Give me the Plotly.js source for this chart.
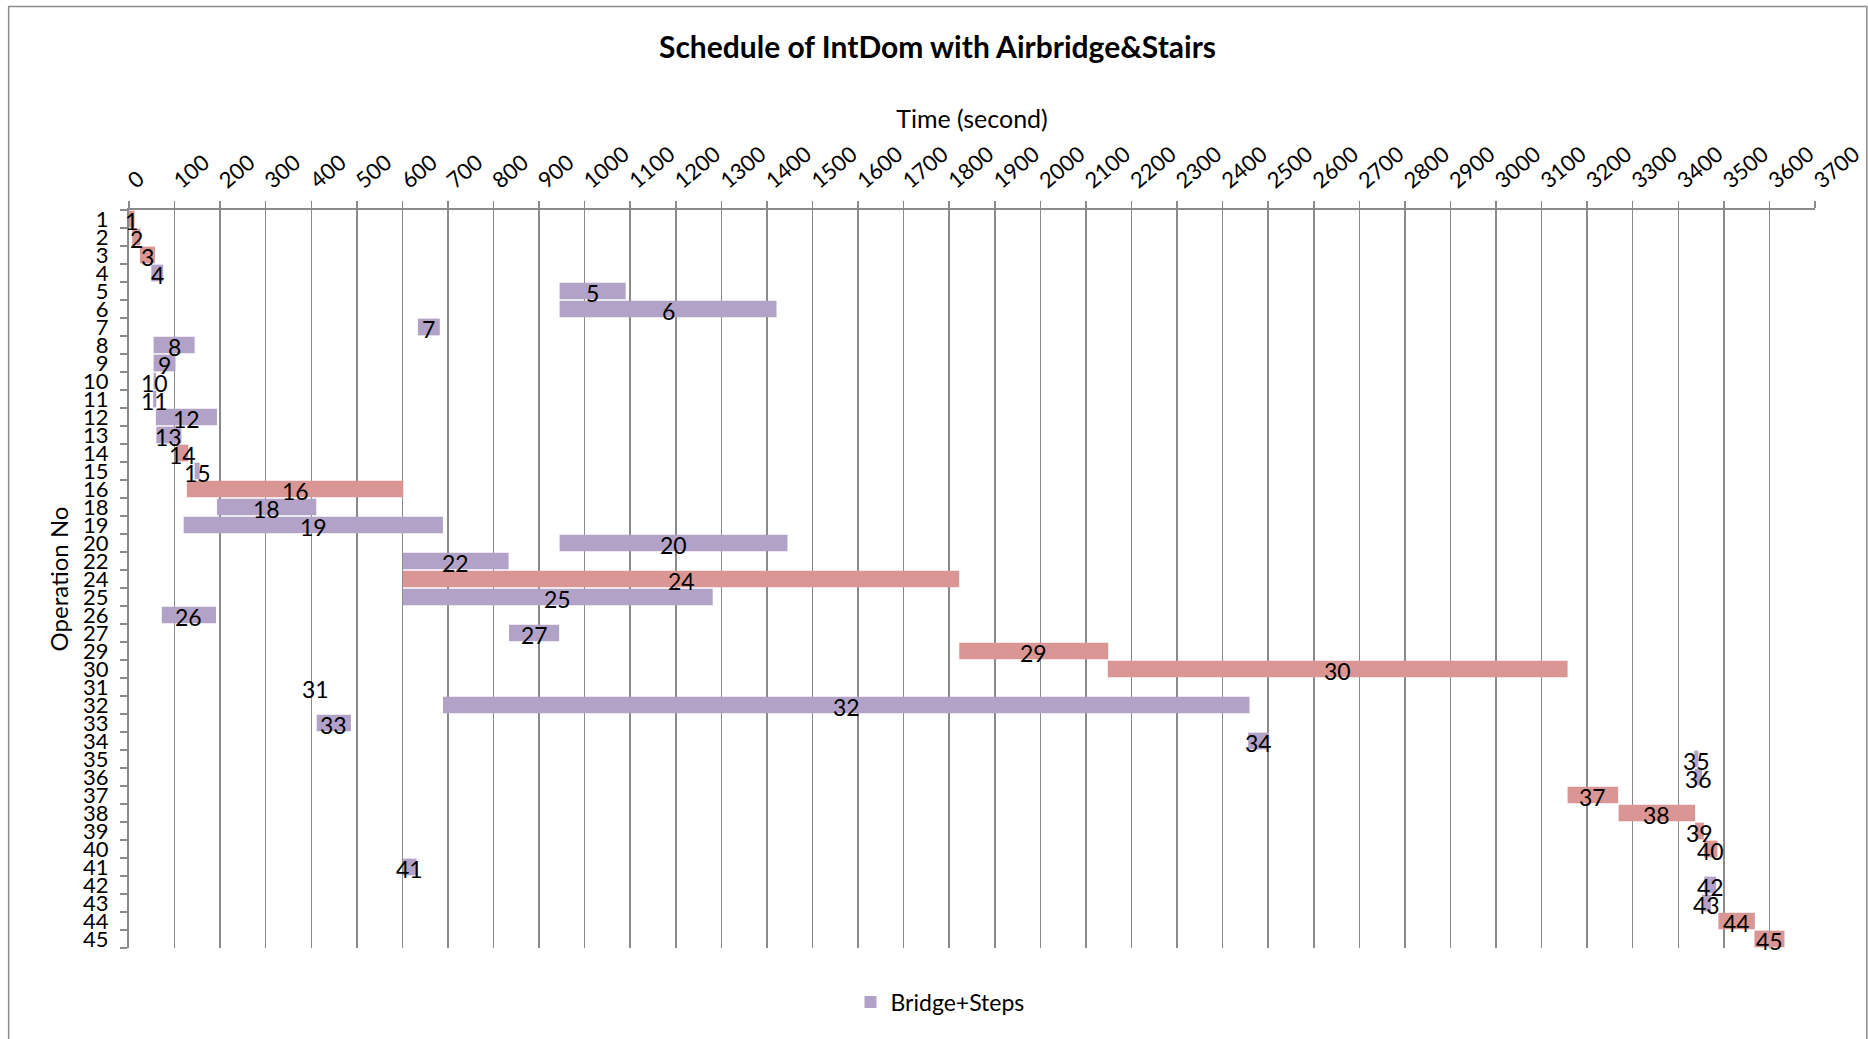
<!DOCTYPE html>
<html>
<head>
<meta charset="utf-8">
<script src="https://cdn.plot.ly/plotly-3.0.1.min.js"></script>
<style>
  html, body { margin: 0; padding: 0; background: #ffffff; }
  #chart { width: 1868px; height: 1039px; }
</style>
</head>
<body>
<div id="chart"></div>
<script>
// Operation numbers, in the order they are listed top to bottom
const ops = [1, 2, 3, 4, 5, 6, 7, 8, 9, 10, 11, 12, 13, 14, 15, 16, 18, 19, 20, 22,
             24, 25, 26, 27, 29, 30, 31, 32, 33, 34, 35, 36, 37, 38, 39, 40, 41, 42, 43, 44, 45];

// Start time of each operation (seconds)
const startSec = [0, 7, 24, 49, 945, 945, 634, 54, 54, 54, 53, 59, 60, 104, 144, 127, 193, 120, 945, 601,
                  601, 601, 72, 834, 1822, 2148, 410, 689, 412, 2456, 3435, 3436, 3157, 3269, 3437, 3456, 601, 3457, 3452, 3488, 3567];

// Duration of each operation (seconds)
const durSec = [12, 18, 33, 26, 145, 476, 48, 90, 48, 5, 7, 134, 55, 26, 11, 475, 218, 569, 500, 232,
                1221, 680, 119, 110, 327, 1009, 0, 1770, 75, 46, 9, 16, 111, 168, 19, 30, 30, 26, 20, 80, 66];

// Operations drawn in the rose colour
const roseOps = [1, 2, 3, 14, 16, 24, 29, 30, 37, 38, 39, 40, 44, 45];

// Time axis ticks
const timeTicks = [];
for (let t = 0; t <= 3700; t += 100) timeTicks.push(t);

const PURPLE = '#B3A2C7';
const ROSE = '#D99694';
const GRID = '#8a8a8a';
const FONT = 'Lato, "Open Sans", sans-serif';

const cats = ops.map(String);

function subset(pred) {
  const y = [], x = [], base = [];
  ops.forEach((op, i) => {
    if (pred(op)) { y.push(String(op)); x.push(durSec[i]); base.push(startSec[i]); }
  });
  return { y, x, base };
}

const purple = subset(op => !roseOps.includes(op));
const rose = subset(op => roseOps.includes(op));

const traces = [
  {
    type: 'bar', orientation: 'h', name: 'Bridge+Steps',
    y: purple.y, x: purple.x, base: purple.base,
    marker: { color: PURPLE, line: { width: 0 } },
    hoverinfo: 'skip', showlegend: true
  },
  {
    type: 'bar', orientation: 'h', name: 'rose',
    y: rose.y, x: rose.x, base: rose.base,
    marker: { color: ROSE, line: { width: 0 } },
    hoverinfo: 'skip', showlegend: false
  }
];

// operation number printed at the middle of each bar (y given as category index)
const barLabels = ops.map((op, i) => ({
  x: startSec[i] + durSec[i] / 2, y: i, xref: 'x', yref: 'y',
  text: String(op), showarrow: false, yshift: -2,
  font: { family: FONT, size: 23, color: '#000000' }
}));

// plot area in pixels: x 129..1815, y 210..948
const L = 129.3, R = 1814.7, T = 210, B = 948;
const W = R - L, H = B - T;
const px = v => (v - L) / W;
const py = v => (B - v) / H;

const layout = {
  width: 1868, height: 1039,
  paper_bgcolor: '#ffffff', plot_bgcolor: '#ffffff',
  margin: { l: L, r: 1868 - R, t: T, b: 1039 - B, pad: 0 },
  font: { family: FONT, color: '#000000' },
  title: {
    text: '<b>Schedule of IntDom with Airbridge&amp;Stairs</b>',
    font: { family: FONT, size: 30, color: '#000000' },
    x: 937.5 / 1868, xanchor: 'center', xref: 'container',
    y: 1 - 47.6 / 1039, yanchor: 'middle', yref: 'container'
  },
  barmode: 'overlay',
  bargap: 0.07,
  xaxis: {
    side: 'top', range: [0, 3700], autorange: false,
    tickmode: 'array', tickvals: timeTicks, ticktext: timeTicks.map(String),
    tickangle: -40,
    tickfont: { family: FONT, size: 22, color: '#000000' },
    ticks: 'outside', ticklen: 7, tickwidth: 1.5, tickcolor: GRID,
    showline: true, linecolor: GRID, linewidth: 2,
    showgrid: true, gridcolor: GRID, gridwidth: 1.5,
    zeroline: false, automargin: false,
    title: { text: 'Time (second)', font: { family: FONT, size: 25, color: '#000000' }, standoff: 4 }
  },
  yaxis: {
    type: 'category', categoryorder: 'array', categoryarray: cats,
    range: [cats.length - 0.5, -0.5], autorange: false,
    tickmode: 'array', tickvals: cats, ticktext: cats,
    tickfont: { family: FONT, size: 22, color: '#000000' },
    ticks: 'outside', ticklen: 7, tickwidth: 1.5, tickcolor: GRID, tickson: 'boundaries',
    ticklabelstandoff: 14,
    showline: true, linecolor: GRID, linewidth: 2,
    showgrid: false, zeroline: false, automargin: false,
    title: { text: 'Operation No', font: { family: FONT, size: 24, color: '#000000' }, standoff: 8 }
  },
  annotations: barLabels,
  showlegend: true,
  legend: {
    orientation: 'h', x: px(940), xanchor: 'center', y: py(1002), yanchor: 'middle',
    font: { family: FONT, size: 23, color: '#000000' },
    bgcolor: 'rgba(0,0,0,0)', itemclick: false, itemdoubleclick: false
  },
  shapes: [
    {
      // chart frame (left, top and right edges)
      type: 'path', xref: 'paper', yref: 'paper',
      path: `M ${px(9)} ${py(1060)} L ${px(9)} ${py(6.5)} L ${px(1866.5)} ${py(6.5)} L ${px(1866.5)} ${py(1060)}`,
      line: { color: '#8c8c8c', width: 1.5 }
    }
  ]
};

Plotly.newPlot('chart', traces, layout, { displayModeBar: false, staticPlot: true });
</script>
</body>
</html>
